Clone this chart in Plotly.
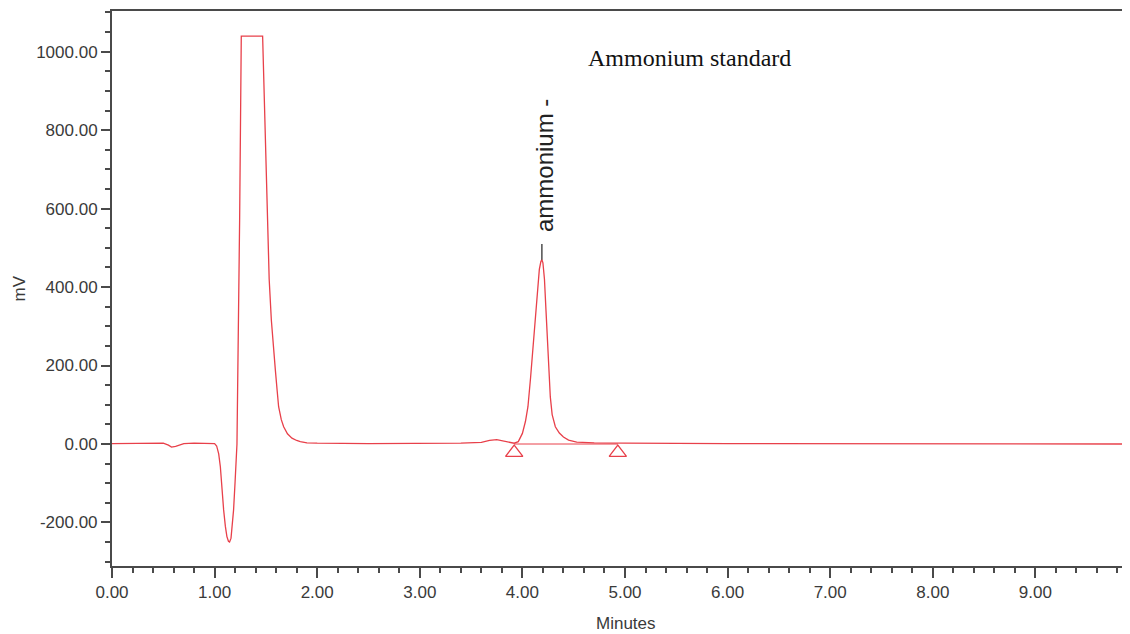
import plotly.graph_objects as go

# Chromatogram trace (minutes, mV)
time_min = [0.00, 0.20, 0.40, 0.50, 0.55, 0.58, 0.62, 0.70, 0.80, 0.95, 1.00, 1.02, 1.04, 1.056,
            1.07, 1.088, 1.105, 1.12, 1.135, 1.146, 1.16, 1.172, 1.185, 1.20, 1.218, 1.244,
            1.260, 1.468, 1.490, 1.511, 1.532, 1.553, 1.572, 1.592, 1.610, 1.624, 1.650, 1.673,
            1.71, 1.754, 1.80, 1.835, 1.90, 2.00, 2.50, 3.00, 3.40, 3.60, 3.68, 3.75, 3.82,
            3.88, 3.92, 3.96, 4.00, 4.03, 4.054, 4.08, 4.109, 4.14, 4.165, 4.18, 4.19, 4.20,
            4.215, 4.23, 4.246, 4.26, 4.272, 4.29, 4.321, 4.36, 4.40, 4.45, 4.53, 4.70, 5.00,
            6.00, 7.00, 8.00, 9.00, 9.95]
signal_mv = [1, 2, 2, 2, -3, -8, -6, 1, 2, 2, 1, -5, -25, -58,
             -110, -168, -210, -236, -248, -250, -240, -210, -168, -95, 0, 571,
             1040, 1040, 800, 571, 420, 316, 245, 189, 135, 95, 62, 44,
             26, 15, 9, 6, 3, 2, 1, 1, 2, 4, 9, 11, 7,
             3, 2, 6, 27, 58, 95, 170, 265, 380, 445, 465, 470, 462,
             420, 340, 265, 180, 120, 75, 44, 28, 18, 10, 5, 3, 2,
             1, 1, 0, 0, 0]

# Integration markers (peak start / end)
marker_time = [3.92, 4.93]
marker_mv = [-22, -22]

# Peak label
peak_name = "ammonium -"
peak_time = 4.19
peak_mv = 470

title_text = "Ammonium standard"
x_tick_vals = [0, 1, 2, 3, 4, 5, 6, 7, 8, 9]
y_tick_vals = [-200, 0, 200, 400, 600, 800, 1000]

RED = "#e8404a"
AX = "#4a4a4a"
TXT = "#3a3a3a"

fig = go.Figure()
fig.add_trace(go.Scatter(x=time_min, y=signal_mv, mode="lines",
                         line=dict(color=RED, width=1.3), hoverinfo="skip"))
fig.add_trace(go.Scatter(x=marker_time, y=[0, 0],
                         mode="lines", line=dict(color=RED, width=1.0), hoverinfo="skip"))
fig.add_trace(go.Scatter(x=marker_time, y=marker_mv, mode="markers",
                         marker=dict(symbol="triangle-up-open", size=15, color=RED,
                                     line=dict(color=RED, width=1.3)),
                         hoverinfo="skip"))
# leader tick above peak
fig.add_trace(go.Scatter(x=[peak_time, peak_time], y=[peak_mv, peak_mv + 40], mode="lines",
                         line=dict(color="#222222", width=1.2), hoverinfo="skip"))

fig.add_annotation(x=peak_time + 0.02, y=711, xref="x", yref="y", text=peak_name,
                   textangle=-90, showarrow=False,
                   font=dict(family="Liberation Sans, Arial", size=24, color="#222222"),
                   xanchor="center", yanchor="middle")
fig.add_annotation(x=5.627, y=984, xref="x", yref="y", text=title_text, showarrow=False,
                   font=dict(family="Liberation Serif, Times New Roman", size=24, color="#111111"),
                   xanchor="center", yanchor="middle")
fig.add_annotation(x=-0.0904, y=0.5, xref="paper", yref="paper", text="mV", textangle=-90,
                   showarrow=False, font=dict(family="Liberation Sans, Arial", size=17, color=TXT),
                   xanchor="center", yanchor="middle")
fig.add_annotation(x=0.505, y=-0.1045, xref="paper", yref="paper", text="Minutes",
                   showarrow=False, font=dict(family="Liberation Sans, Arial", size=17, color=TXT),
                   xanchor="center", yanchor="middle")

# page body has an 8px margin: shrink the figure so the plot area lands where the reference has it
fig.update_layout(
    width=1122, height=626,
    margin=dict(l=104, r=0, t=3, b=68),
    paper_bgcolor="white", plot_bgcolor="white",
    showlegend=False,
    font=dict(family="Liberation Sans, Arial", size=17, color=TXT),
)
fig.update_xaxes(range=[0, 9.922], tickvals=x_tick_vals,
                 ticktext=[f"{v:.2f}" for v in x_tick_vals],
                 showgrid=False, zeroline=False, showline=True, linecolor=AX, linewidth=2,
                 mirror=True, ticks="outside", ticklen=10, tickwidth=1.5, tickcolor=AX,
                 minor=dict(dtick=0.2, ticks="outside", ticklen=5, tickwidth=1.5, tickcolor=AX),
                 tickfont=dict(size=17, color=TXT))
fig.update_yaxes(range=[-311, 1103.8], tickvals=y_tick_vals,
                 ticktext=[f"{v:.2f}" for v in y_tick_vals],
                 showgrid=False, zeroline=False, showline=True, linecolor=AX, linewidth=2,
                 ticks="outside", ticklen=9, tickwidth=1.5, tickcolor=AX,
                 minor=dict(dtick=50, ticks="outside", ticklen=5, tickwidth=1.5, tickcolor=AX),
                 tickfont=dict(size=17, color=TXT))

fig.write_html("out.html")
